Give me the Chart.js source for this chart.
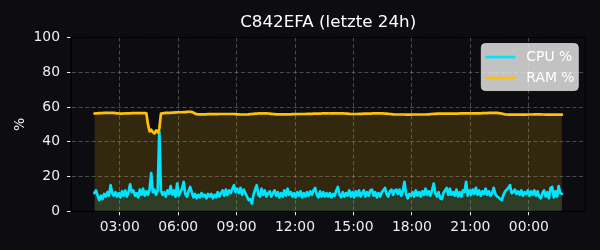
<!DOCTYPE html>
<html lang="de">
<head>
<meta charset="utf-8">
<title>C842EFA (letzte 24h)</title>
<script src="https://cdn.jsdelivr.net/npm/chart.js@4.4.1/dist/chart.umd.min.js"></script>
<style>
  html, body { margin: 0; padding: 0; background: #0d0d11; }
  #wrap { width: 600px; height: 250px; }
</style>
</head>
<body>
<div id="wrap"><canvas id="cpuRamChart" width="600" height="250"></canvas></div>
<script>
/* global Chart */

// Messwerte alle 5 Minuten, erster Wert ~01:42
const START_HOUR = 1.7;
const STEP_HOURS = 5 / 60;

const TICK_HOURS = [3, 6, 9, 12, 15, 18, 21, 24];
const TICK_LABELS = ["03:00", "06:00", "09:00", "12:00", "15:00", "18:00", "21:00", "00:00"];
const Y_TICKS = [0, 20, 40, 60, 80, 100];

const CPU = [
  10.5, 12, 9, 6.5, 9, 7, 10, 8.5, 11, 9, 15, 10.5,
  9, 11, 8.5, 10.5, 8, 11.5, 9, 12, 8.5, 11, 15.5, 11,
  12, 9, 10.5, 8, 12.5, 9.5, 13, 9, 11.5, 9.5, 12.5, 22,
  11, 12.5, 9.5, 12, 46, 12, 9.5, 11, 8.5, 12, 10, 14.5,
  9.5, 12, 8.5, 16, 9, 11, 13, 17, 10, 8.5, 11.5, 14,
  11, 8, 10, 7.5, 9.5, 8, 10.5, 8.5, 9.5, 7.5, 10, 8.5,
  10, 7.5, 9.5, 8, 11, 8.5, 10.5, 12, 9, 12.5, 9.5, 12,
  10.5, 13, 15, 11, 13, 10.5, 13.5, 9.5, 12.5, 10.5, 8.5, 6.5,
  7, 4.5, 9.5, 12.5, 15, 9.5, 8.5, 13, 9.5, 12, 8.5, 10.5,
  11.5, 8.5, 10.5, 12, 9, 11, 8, 10.5, 8.5, 12, 9, 13,
  9.5, 11, 8.5, 10.5, 8, 11, 9, 11.5, 8, 10.5, 8.5, 11,
  9, 11.5, 9.5, 12, 13.5, 9.5, 8, 11.5, 8.5, 11, 8.5, 10.5,
  8.5, 10.5, 8, 10, 9, 12, 14, 9.5, 8, 11, 8.5, 10.5,
  9, 12, 8.5, 11, 8, 11.5, 9, 12, 8.5, 10.5, 12, 8.5,
  11, 9, 12, 12.5, 9, 11, 8, 10.5, 8.5, 11, 12, 13.5,
  10, 8.5, 11.5, 12.5, 9.5, 12, 12.5, 10, 12.5, 9, 11.5, 17,
  10, 7.5, 10, 9, 11, 8.5, 12, 9, 11, 8.5, 11.5, 9.5,
  13, 9.5, 11.5, 9, 12, 16, 10.5, 8.5, 11, 7.5, 7, 10.5,
  12, 13.5, 9.5, 13, 9.5, 11, 9, 12.5, 8.5, 11, 8.5, 12,
  11, 17, 9, 12, 9.5, 12.5, 10, 13.5, 9.5, 12, 9, 11.5,
  10, 13, 9.5, 11.5, 9, 10.5, 13.5, 10, 8.5, 8, 7, 6.5,
  9.5, 11.5, 12.5, 13.5, 15, 10.5, 11, 12.5, 10, 11.5, 9.5, 12,
  9, 11, 10, 12, 9, 11.5, 9.5, 12, 9, 11.5, 8.5, 7.5,
  10.5, 12, 8.5, 11, 7.5, 13.5, 14, 8, 11.5, 8.5, 14.5, 10.5, 10
];

const RAM = [
  56.3, 56.4, 56.4, 56.5, 56.5, 56.5, 56.6, 56.6, 56.6, 56.7, 56.7, 56.6,
  56.6, 56.5, 56.3, 56.3, 56.2, 56.2, 56.3, 56.3, 56.4, 56.4, 56.4, 56.5,
  56.5, 56.5, 56.5, 56.5, 56.5, 56.5, 56.5, 56.5, 56.4, 50, 46, 47,
  45.5, 44.8, 46.5, 45.5, 47.5, 56.2, 56.4, 56.5, 56.6, 56.6, 56.7, 56.7,
  56.8, 56.8, 56.9, 56.9, 57.0, 57.0, 57.0, 57.1, 57.1, 57.2, 57.3, 57.3,
  57.2, 56.8, 56.2, 55.9, 55.8, 55.8, 55.8, 55.8, 55.8, 55.8, 55.9, 55.9,
  55.9, 55.9, 55.9, 55.9, 55.9, 56.0, 56.0, 56.0, 56.0, 56.0, 56.0, 56.0,
  56.0, 56.0, 56.0, 55.9, 55.8, 55.8, 55.7, 55.7, 55.7, 55.7, 55.7, 55.8,
  55.9, 56.0, 56.1, 56.2, 56.2, 56.3, 56.3, 56.3, 56.4, 56.4, 56.4, 56.3,
  56.2, 56.1, 56.0, 55.9, 55.8, 55.8, 55.8, 55.8, 55.8, 55.8, 55.8, 55.8,
  55.8, 55.8, 55.9, 55.9, 55.9, 56.0, 56.0, 56.0, 56.0, 56.0, 56.0, 56.1,
  56.1, 56.1, 56.1, 56.2, 56.2, 56.2, 56.2, 56.2, 56.3, 56.3, 56.3, 56.3,
  56.3, 56.4, 56.4, 56.4, 56.4, 56.4, 56.4, 56.3, 56.3, 56.3, 56.3, 56.2,
  56.2, 56.1, 56.0, 56.0, 56.0, 56.0, 56.0, 56.1, 56.1, 56.1, 56.2, 56.2,
  56.2, 56.2, 56.2, 56.3, 56.3, 56.3, 56.3, 56.3, 56.3, 56.3, 56.3, 56.2,
  56.2, 56.1, 56.0, 55.9, 55.8, 55.7, 55.7, 55.7, 55.7, 55.7, 55.7, 55.7,
  55.6, 55.6, 55.6, 55.6, 55.7, 55.7, 55.7, 55.7, 55.7, 55.7, 55.7, 55.7,
  55.7, 55.8, 55.8, 55.9, 56.0, 56.1, 56.1, 56.2, 56.2, 56.2, 56.2, 56.2,
  56.2, 56.2, 56.2, 56.2, 56.2, 56.2, 56.2, 56.2, 56.2, 56.3, 56.3, 56.3,
  56.3, 56.3, 56.3, 56.3, 56.3, 56.4, 56.4, 56.4, 56.4, 56.4, 56.4, 56.5,
  56.5, 56.5, 56.5, 56.6, 56.6, 56.6, 56.6, 56.6, 56.6, 56.5, 56.4, 56.2,
  56.0, 55.8, 55.7, 55.6, 55.6, 55.6, 55.6, 55.6, 55.6, 55.6, 55.6, 55.6,
  55.6, 55.6, 55.6, 55.7, 55.7, 55.7, 55.7, 55.8, 55.8, 55.8, 55.8, 55.8,
  55.7, 55.7, 55.6, 55.6, 55.6, 55.6, 55.6, 55.6, 55.6, 55.6, 55.6, 55.6, 55.6
];

(() => {
  "use strict";

  const FONT = "DejaVu Sans";
  const TEXT = "#eeeeee";
  const GRID = "rgba(150,150,150,0.45)";

  const toPoints = (arr) => arr.map((v, i) => ({ x: START_HOUR + i * STEP_HOURS, y: v }));

  const span = (CPU.length - 1) * STEP_HOURS;
  const xMin = START_HOUR - span * 0.05;
  const xMax = START_HOUR + span * 1.05;

  // schwarzer Rahmen rund um die Plotfläche
  const frame = {
    id: "frame",
    afterDraw(chart) {
      const { ctx, chartArea: a } = chart;
      ctx.save();
      ctx.strokeStyle = "#000";
      ctx.lineWidth = 1;
      ctx.strokeRect(a.left, a.top, a.right - a.left, a.bottom - a.top);
      ctx.restore();
    },
  };

  // Legende oben rechts mit hellem Kasten
  const legendBox = {
    id: "legendBox",
    afterDraw(chart) {
      const { ctx, chartArea: a } = chart;
      const w = 97, h = 47;
      const x = a.right - w - 7, y = a.top + 6;
      ctx.save();
      ctx.beginPath();
      if (ctx.roundRect) ctx.roundRect(x, y, w, h, 4);
      else ctx.rect(x, y, w, h);
      ctx.fillStyle = "rgba(240,240,240,0.8)";
      ctx.fill();
      ctx.strokeStyle = "rgba(215,215,215,0.8)";
      ctx.lineWidth = 1;
      ctx.stroke();

      ctx.font = `13.9px "${FONT}"`;
      ctx.textBaseline = "middle";
      ctx.textAlign = "left";
      chart.data.datasets.forEach((ds, i) => {
        const ly = y + 13.5 + i * 21;
        ctx.strokeStyle = ds.borderColor;
        ctx.lineWidth = 2.6;
        ctx.beginPath();
        ctx.moveTo(x + 4, ly);
        ctx.lineTo(x + 34, ly);
        ctx.stroke();
        ctx.fillStyle = "#ffffff";
        ctx.fillText(ds.label, x + 45, ly);
      });
      ctx.restore();
    },
  };

  const boot = () => {
    const canvas = document.getElementById("cpuRamChart");
    if (!canvas || typeof Chart === "undefined") return;

    Chart.defaults.font.family = FONT;
    Chart.defaults.color = TEXT;

    new Chart(canvas.getContext("2d"), {
      type: "line",
      data: {
        datasets: [
          {
            label: "CPU %",
            data: toPoints(CPU),
            borderColor: "#00e5ff",
            backgroundColor: "rgba(0,229,255,0.12)",
            fill: "origin",
            borderWidth: 2.7,
            pointRadius: 0,
            tension: 0,
            borderJoinStyle: "round",
            borderCapStyle: "round",
            order: 2,
          },
          {
            label: "RAM %",
            data: toPoints(RAM),
            borderColor: "#ffc107",
            backgroundColor: "rgba(255,193,7,0.15)",
            fill: "origin",
            borderWidth: 2.7,
            pointRadius: 0,
            tension: 0,
            borderJoinStyle: "round",
            borderCapStyle: "round",
            order: 1,
          },
        ],
      },
      options: {
        responsive: false,
        animation: false,
        devicePixelRatio: 1,
        layout: { padding: { left: 0, right: 14.7, top: 0, bottom: 0 } },
        plugins: {
          legend: { display: false },
          tooltip: { enabled: false },
          filler: { drawTime: "beforeDatasetsDraw" },
          title: {
            display: true,
            text: "C842EFA (letzte 24h)",
            color: "#ffffff",
            fullSize: false,
            font: { family: FONT, size: 16.7, weight: "normal" },
            padding: { top: 13, bottom: 4.5 },
          },
        },
        scales: {
          x: {
            type: "linear",
            min: xMin,
            max: xMax,
            afterBuildTicks: (s) => { s.ticks = TICK_HOURS.map((v) => ({ value: v })); },
            afterFit: (s) => { s.height = 38.7; },
            ticks: {
              autoSkip: false,
              maxRotation: 0,
              padding: 4,
              color: TEXT,
              font: { size: 13.9 },
              callback: (v, i) => TICK_LABELS[i],
            },
            grid: { color: GRID, tickColor: "#eeeeee", tickLength: 4, tickWidth: 1 },
            border: { display: true, color: "#000", width: 1, dash: [4, 2.5] },
          },
          y: {
            min: 0,
            max: 100,
            afterBuildTicks: (s) => { s.ticks = Y_TICKS.map((v) => ({ value: v })); },
            afterFit: (s) => { s.width = 71; },
            ticks: { padding: 7, color: TEXT, font: { size: 13.9 } },
            grid: { color: GRID, tickColor: "#eeeeee", tickLength: 4, tickWidth: 1 },
            border: { display: true, color: "#000", width: 1, dash: [4, 2.5] },
            title: {
              display: true,
              text: "%",
              color: TEXT,
              font: { size: 13.9 },
              padding: { top: 12.5, bottom: 0 },
            },
          },
        },
      },
      plugins: [frame, legendBox],
    });
  };

  if (document.readyState === "loading") document.addEventListener("DOMContentLoaded", boot);
  else boot();
})();
</script>
</body>
</html>
